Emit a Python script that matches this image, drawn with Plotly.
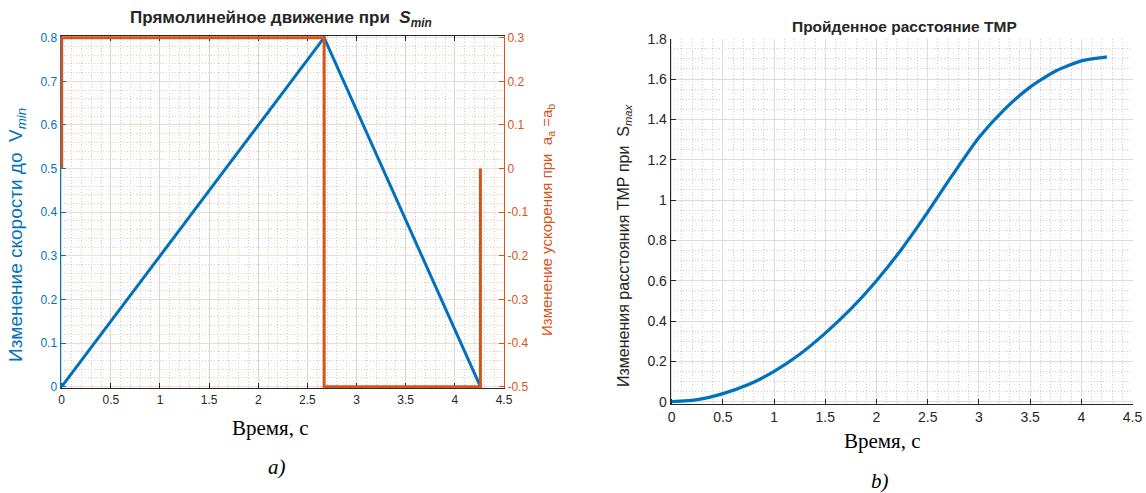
import plotly.graph_objects as go

# ---------------- data ----------------
time_v = [0, 2.67, 4.26]
velocity = [0, 0.8, 0]

time_a = [0, 0, 2.67, 2.67, 4.26, 4.26]
accel = [0, 0.3, 0.3, -0.5, -0.5, 0]

time_s = [0, 0.25, 0.5, 0.75, 1.0, 1.25, 1.5, 1.75, 2.0, 2.25, 2.5, 2.67,
          2.75, 3.0, 3.25, 3.5, 3.75, 4.0, 4.25]
distance = [0, 0.01, 0.04, 0.085, 0.15, 0.235, 0.34, 0.46, 0.6, 0.76, 0.94,
            1.07, 1.13, 1.31, 1.45, 1.56, 1.64, 1.69, 1.71]

x_tickvals = [0, 0.5, 1, 1.5, 2, 2.5, 3, 3.5, 4, 4.5]
x_ticktext = ["0", "0.5", "1", "1.5", "2", "2.5", "3", "3.5", "4", "4.5"]
v_tickvals = [0, 0.1, 0.2, 0.3, 0.4, 0.5, 0.6, 0.7, 0.8]
v_ticktext = ["0", "0.1", "0.2", "0.3", "0.4", "0.5", "0.6", "0.7", "0.8"]
a_tickvals = [-0.5, -0.4, -0.3, -0.2, -0.1, 0, 0.1, 0.2, 0.3]
a_ticktext = ["-0.5", "-0.4", "-0.3", "-0.2", "-0.1", "0", "0.1", "0.2", "0.3"]
s_tickvals = [0, 0.2, 0.4, 0.6, 0.8, 1.0, 1.2, 1.4, 1.6, 1.8]
s_ticktext = ["0", "0.2", "0.4", "0.6", "0.8", "1", "1.2", "1.4", "1.6", "1.8"]

# ---------------- style ----------------
W, H = 1146, 493
BLUE = "#0072BD"
ORANGE = "#D95319"
DARK = "#262626"
SANS = "Liberation Sans, Arial, sans-serif"
SERIF = "Liberation Serif, Times New Roman, serif"


def px(x):
    return x / W


def py(y):
    return 1 - y / H


fig = go.Figure()

fig.add_trace(go.Scatter(x=time_a, y=accel, mode="lines", xaxis="x", yaxis="y2",
                         line=dict(color=ORANGE, width=3), showlegend=False))
fig.add_trace(go.Scatter(x=time_v, y=velocity, mode="lines", xaxis="x", yaxis="y",
                         line=dict(color=BLUE, width=3), showlegend=False))
fig.add_trace(go.Scatter(x=time_s, y=distance, mode="lines", xaxis="x2", yaxis="y3",
                         line=dict(color=BLUE, width=3.2, shape="spline", smoothing=0.6),
                         showlegend=False))

e = 0.004
minor_gray = dict(showgrid=True, gridcolor="#CFCFCF", griddash="1px,2px", gridwidth=1)

fig.update_layout(
    template="none",
    width=W, height=H, autosize=False,
    margin=dict(l=0, r=0, t=0, b=0, pad=0, autoexpand=False),
    paper_bgcolor="white", plot_bgcolor="white",
    font=dict(family=SANS, size=12, color=DARK),
    xaxis=dict(
        domain=[px(60.5), px(504)], anchor="y", range=[-0.012, 4.5], automargin=False,
        tickvals=x_tickvals, ticktext=x_ticktext,
        showline=True, linecolor=DARK, linewidth=1, mirror="ticks",
        ticks="inside", ticklen=5, tickcolor=DARK,
        showgrid=True, gridcolor="#D6D6D6", zeroline=False,
        tickfont=dict(size=12, color=DARK), layer="below traces",
        minor=dict(dtick=0.1, tick0=0, **minor_gray),
    ),
    yaxis=dict(
        domain=[py(388.45), py(35.95)], anchor="x", range=[0 - e, 0.8 + e], automargin=False,
        tickvals=v_tickvals, ticktext=v_ticktext,
        showline=True, linecolor=BLUE, linewidth=1,
        ticks="inside", ticklen=5, tickcolor=BLUE,
        showgrid=False, zeroline=False,
        tickfont=dict(size=12, color=BLUE), layer="below traces",
    ),
    yaxis2=dict(
        overlaying="y", side="right", anchor="x", range=[-0.5 - e, 0.3 + e], automargin=False,
        tickvals=a_tickvals, ticktext=a_ticktext,
        showline=True, linecolor=ORANGE, linewidth=1,
        ticks="inside", ticklen=5, tickcolor=ORANGE,
        showgrid=True, gridcolor="#F6D9CD", zeroline=False,
        tickfont=dict(size=12, color=ORANGE), layer="below traces",
        minor=dict(dtick=0.02, tick0=-0.5, showgrid=True, gridcolor="#F1C9B8",
                   griddash="1px,2px", gridwidth=1),
    ),
    xaxis2=dict(
        domain=[px(670.7), px(1132.5)], anchor="y3", range=[-0.01, 4.5], automargin=False,
        tickvals=x_tickvals, ticktext=x_ticktext,
        showline=True, linecolor=DARK, linewidth=1,
        ticks="inside", ticklen=5, tickcolor=DARK,
        showgrid=True, gridcolor="#DCDCDC", zeroline=False,
        tickfont=dict(size=14, color=DARK), layer="below traces",
        minor=dict(dtick=0.1, tick0=0, **minor_gray),
    ),
    yaxis3=dict(
        domain=[py(403.7), py(38.7)], anchor="x2", range=[-0.01, 1.8], automargin=False,
        tickvals=s_tickvals, ticktext=s_ticktext,
        showline=True, linecolor=DARK, linewidth=1,
        ticks="inside", ticklen=5, tickcolor=DARK,
        showgrid=True, gridcolor="#DCDCDC", zeroline=False,
        tickfont=dict(size=14, color=DARK), layer="below traces",
        minor=dict(dtick=0.05, tick0=0, **minor_gray),
    ),
)


def ann(x, y, text, size, color=DARK, family=SANS, angle=0):
    fig.add_annotation(x=px(x), y=py(y), xref="paper", yref="paper", text=text,
                       showarrow=False, textangle=angle, xanchor="center", yanchor="middle",
                       font=dict(size=size, color=color, family=family))


ann(281, 19, "<b>Прямолинейное движение при  <i>S</i><sub><i>min</i></sub></b>", 17)
ann(904, 27, "<b>Пройденное расстояние ТМР</b>", 15.5)
ann(17, 235, "Изменение скорости до  V<sub><i>min</i></sub>", 19, color=BLUE, angle=-90)
ann(548, 220, "Изменение ускорения при  a<sub>a</sub> =a<sub>b</sub>", 15, color=ORANGE, angle=-90)
ann(625, 246, "Изменения расстояния ТМР при  S<sub><i>max</i></sub>", 16, angle=-90)
ann(270, 428, "Время, с", 21, color="black", family=SERIF)
ann(882, 441, "Время, с", 21, color="black", family=SERIF)
ann(277, 467, "<i>a)</i>", 21, color="black", family=SERIF)
ann(880, 481, "<i>b)</i>", 21, color="black", family=SERIF)

fig.write_html(
    "out.html",
    config={"displayModeBar": False},
    post_script="document.body.style.margin='0';document.body.style.padding='0';"
                "document.body.style.overflow='hidden';",
)
